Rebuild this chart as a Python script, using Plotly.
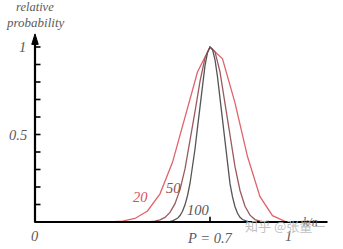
import plotly.graph_objects as go

# ---- data (relative probability) ----
x20 = [0.0, 0.25, 0.30, 0.35, 0.40, 0.45, 0.50, 0.55, 0.60, 0.65, 0.70,
       0.75, 0.80, 0.85, 0.90, 0.95, 1.00]
y20 = [0.0, 0.0, 0.001, 0.005, 0.020, 0.063, 0.161, 0.341, 0.597, 0.857, 1.0,
       0.933, 0.681, 0.374, 0.145, 0.036, 0.004]

x50 = [0.0, 0.44, 0.46, 0.48, 0.50, 0.52, 0.54, 0.56, 0.58, 0.60, 0.62, 0.64,
       0.66, 0.68, 0.70, 0.72, 0.74, 0.76, 0.78, 0.80, 0.82, 0.84, 0.86,
       0.88, 0.90, 0.92, 1.0]
y50 = [0.0, 0.0, 0.002, 0.005, 0.012, 0.026, 0.055, 0.105, 0.185, 0.303, 0.456, 0.631,
       0.804, 0.938, 1.0, 0.972, 0.858, 0.685, 0.492, 0.316, 0.180, 0.090, 0.039,
       0.014, 0.005, 0.001, 0.0]

x100 = [0.0, 0.52, 0.53, 0.54, 0.55, 0.56, 0.57, 0.58, 0.59, 0.60, 0.61, 0.62,
        0.63, 0.64, 0.65, 0.66, 0.67, 0.68, 0.69, 0.70, 0.71, 0.72, 0.73,
        0.74, 0.75, 0.76, 0.77, 0.78, 0.79, 0.80, 0.81, 0.82, 0.83, 0.84,
        0.85, 0.86, 0.87, 1.0]
y100 = [0.0, 0.001, 0.002, 0.003, 0.006, 0.012, 0.021, 0.037, 0.061, 0.098, 0.150, 0.220,
        0.309, 0.417, 0.539, 0.667, 0.790, 0.894, 0.968, 1.0, 0.986, 0.927, 0.829,
        0.706, 0.571, 0.438, 0.319, 0.219, 0.143, 0.087, 0.050, 0.027, 0.014, 0.007,
        0.003, 0.001, 0.0, 0.0]

y_ticks = [0.1, 0.2, 0.3, 0.4, 0.5, 0.6, 0.7, 0.8, 0.9, 1.0]
x_ticks = [0.7]

serif = "Liberation Serif"
red = "#e0646c"
mid = "#9a5a5e"
dark = "#555555"

fig = go.Figure()
fig.add_trace(go.Scatter(x=x20, y=y20, mode="lines", line=dict(color=red, width=1.3)))
fig.add_trace(go.Scatter(x=x50, y=y50, mode="lines", line=dict(color=mid, width=1.3)))
fig.add_trace(go.Scatter(x=x100, y=y100, mode="lines", line=dict(color=dark, width=1.3)))

shapes = []
# axes
shapes.append(dict(type="line", x0=0, y0=0, x1=0, y1=1.03, line=dict(color="black", width=2.2)))
shapes.append(dict(type="line", x0=-0.003, y0=0, x1=1.17, y1=0, line=dict(color="black", width=2.2)))
shapes.append(dict(type="path", path="M -0.013,1.015 L 0,1.075 L 0.013,1.015 Z",
                   fillcolor="black", line=dict(color="black", width=1)))
for t in y_ticks:
    shapes.append(dict(type="line", x0=0, y0=t, x1=0.022, y1=t, line=dict(color="black", width=1.6)))
for t in x_ticks:
    shapes.append(dict(type="line", x0=t, y0=0, x1=t, y1=0.03, line=dict(color="black", width=1.6)))

ann = []
def txt(x, y, s, size=14.5, color="#5a5a5a", family=serif, italic=True, xanchor="center"):
    ann.append(dict(x=x, y=y, text=(f"<i>{s}</i>" if italic else s), showarrow=False,
                    font=dict(family=family, size=size, color=color), xanchor=xanchor, yanchor="middle"))

txt(0.0, 1.228, "relative", size=12.5)
txt(0.0, 1.14, "probability", size=13)
txt(-0.05, 1.0, "1")
txt(-0.07, 0.5, "0.5")
txt(0.0, -0.08, "0")
txt(0.7, -0.09, "P = 0.7")
txt(1.015, -0.08, "1")
txt(1.1, 0.0, "k/n", size=12)
txt(0.42, 0.143, "20", color="#d8505a")
txt(0.553, 0.195, "50", color="#8a4c50")
txt(0.655, 0.07, "100", color="#555555")
txt(1.0, -0.02, "知乎 @张量一", size=13, color="rgba(185,185,185,0.9)",
    family="Noto Sans CJK SC", italic=False)

fig.update_layout(
    width=343, height=249,
    margin=dict(l=0, r=0, t=0, b=0),
    paper_bgcolor="white", plot_bgcolor="white",
    showlegend=False,
    xaxis=dict(range=[-0.14, 1.232], visible=False, fixedrange=True),
    yaxis=dict(range=[-0.1543, 1.2686], visible=False, fixedrange=True),
    shapes=shapes, annotations=ann,
)
fig.write_html("out.html", config={"displayModeBar": False})
